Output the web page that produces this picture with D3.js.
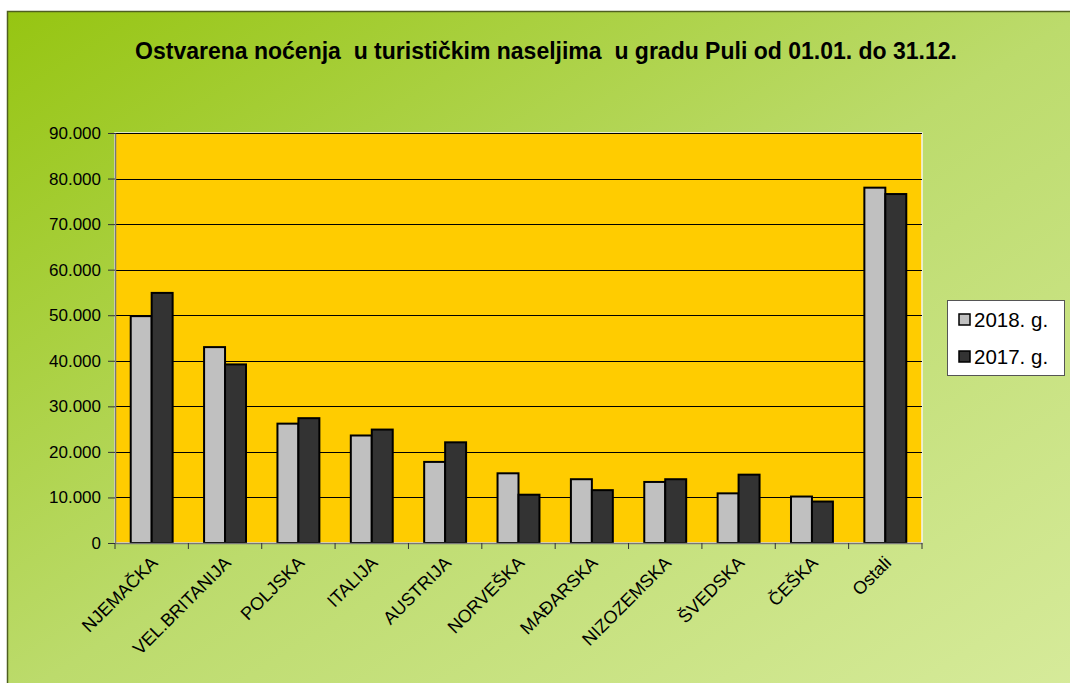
<!DOCTYPE html>
<html><head><meta charset="utf-8">
<script src="https://cdn.jsdelivr.net/npm/d3@7"></script>
<style>html,body{margin:0;padding:0;background:#fff;}svg{display:block;}</style>
</head><body>
<script>
const categories = ["NJEMAČKA","VEL.BRITANIJA","POLJSKA","ITALIJA","AUSTRIJA","NORVEŠKA","MAĐARSKA","NIZOZEMSKA","ŠVEDSKA","ČEŠKA","Ostali"];
const series2018 = [49800, 43000, 26200, 23600, 17800, 15300, 14000, 13400, 10900, 10200, 78000];
const series2017 = [54900, 39200, 27400, 24900, 22100, 10600, 11600, 14000, 15000, 9100, 76600];
const seriesNames = ["2018. g.", "2017. g."];
const seriesColors = ["#C0C0C0", "#333333"];
const yTicks = [0,10000,20000,30000,40000,50000,60000,70000,80000,90000];
const title = "Ostvarena noćenja  u turističkim naseljima  u gradu Puli od 01.01. do 31.12.";

const W = 1070, H = 683;
const FONT = "Liberation Sans, Arial, sans-serif";
const svg = d3.select("body").append("svg").attr("width", W).attr("height", H);
const defs = svg.append("defs");
const g0 = defs.append("linearGradient").attr("id","bg").attr("x1","0").attr("y1","0").attr("x2","1").attr("y2","1");
g0.append("stop").attr("offset","0").attr("stop-color","#96C512");
g0.append("stop").attr("offset","0.5").attr("stop-color","#BCDB6C");
g0.append("stop").attr("offset","1").attr("stop-color","#D7EB9C");

svg.append("rect").attr("x",7.5).attr("y",11.5).attr("width",W+10).attr("height",H+10)
  .attr("fill","url(#bg)").attr("stroke","#4F5F20").attr("stroke-width",1.5);

svg.append("text").attr("x",546).attr("y",59).attr("text-anchor","middle")
  .attr("font-family",FONT).attr("font-weight","bold")
  .attr("font-size",23).attr("fill","#000").style("white-space","pre").text(title);

const m = {l:115, r:922, t:133, b:543};
const x = d3.scaleBand().domain(categories).range([m.l, m.r]).paddingInner(0).paddingOuter(0);
const y = d3.scaleLinear().domain([0, 90000]).range([m.b, m.t]);
const bw = x.bandwidth() / 3.5;
const x1 = d3.scaleBand().domain([0,1]).range([bw*0.75, bw*2.75]).padding(0);

const plot = svg.append("g");
plot.append("rect").attr("x",m.l).attr("y",m.t).attr("width",m.r-m.l).attr("height",m.b-m.t)
  .attr("fill","#FFCC00").attr("stroke","#F4F4F0").attr("stroke-width",1.5);

plot.selectAll("line.grid").data(yTicks.filter(d=>d>0)).enter().append("line")
  .attr("x1",m.l).attr("x2",m.r).attr("y1",d=>Math.round(y(d))+0.5).attr("y2",d=>Math.round(y(d))+0.5)
  .attr("stroke","#000").attr("stroke-width",1);

const data = categories.map((c,i)=>({c, v:[series2018[i], series2017[i]]}));
const grp = plot.selectAll("g.cat").data(data).enter().append("g").attr("transform",d=>`translate(${x(d.c)},0)`);
grp.selectAll("rect").data(d=>d.v.map((v,k)=>({v,k}))).enter().append("rect")
  .attr("x",d=>x1(d.k)).attr("width",x1.bandwidth())
  .attr("y",d=>y(d.v)).attr("height",d=>y(0)-y(d.v))
  .attr("fill",d=>seriesColors[d.k]).attr("stroke","#000").attr("stroke-width",2);

// axes
const yAxis = d3.axisLeft(y).tickValues(yTicks).tickSize(7).tickSizeOuter(0)
  .tickFormat(d=> d===0 ? "0" : d3.format(",")(d).replace(/,/g,"."));
const ya = svg.append("g").attr("transform",`translate(${m.l},0)`).call(yAxis);
ya.select(".domain").attr("stroke","#777").attr("stroke-width",1.5);
ya.selectAll(".tick line").attr("stroke","#333");
ya.selectAll(".tick text").attr("font-family",FONT).attr("font-size",17).attr("fill","#000").attr("x",-14);

const xAxis = d3.axisBottom(x).tickSize(0).tickSizeOuter(0);
const xa = svg.append("g").attr("transform",`translate(0,${m.b})`).call(xAxis);
xa.select(".domain").attr("stroke","#777").attr("stroke-width",1.5);
xa.selectAll(".tick text").attr("font-family",FONT).attr("font-size",18).attr("fill","#000")
  .attr("text-anchor","end").attr("dy",0).attr("y",0)
  .attr("transform","translate(7,21) rotate(-45)");
// category boundary ticks
xa.selectAll("line.bt").data(d3.range(categories.length+1)).enter().append("line")
  .attr("x1",i=>m.l + i*x.step()).attr("x2",i=>m.l + i*x.step()).attr("y1",0).attr("y2",6)
  .attr("stroke","#333").attr("stroke-width",1);

// legend
const lg = svg.append("g").attr("transform","translate(947,300)");
lg.append("rect").attr("x",0.5).attr("y",0.5).attr("width",117).attr("height",75).attr("fill","#fff").attr("stroke","#555").attr("stroke-width",1);
seriesNames.forEach((n,i)=>{
  lg.append("rect").attr("x",12).attr("y",14+i*37).attr("width",11).attr("height",11)
    .attr("fill",seriesColors[i]).attr("stroke","#000").attr("stroke-width",1.5);
  lg.append("text").attr("x",27).attr("y",27+i*37).attr("font-family",FONT)
    .attr("font-size",20.5).attr("fill","#000").text(n);
});
</script>
</body></html>
